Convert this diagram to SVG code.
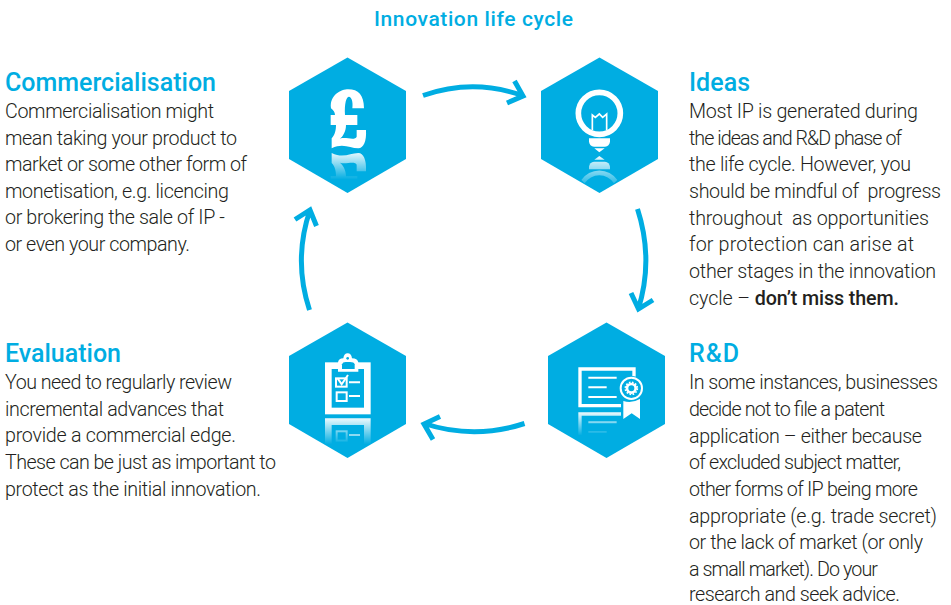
<svg xmlns="http://www.w3.org/2000/svg" xmlns:xlink="http://www.w3.org/1999/xlink" width="951" height="605" viewBox="0 0 951 605">
<style>
text{font-family:"Roboto","Liberation Sans",sans-serif}
.h{font-size:25px;font-weight:500;fill:#00ade2}
.b{font-size:19.700px;font-weight:300;fill:#231f20}
.t{font-size:21px;font-weight:500;fill:#00ade2}
.hex{fill:#00ade2}
.arrow{fill:none;stroke:#00ade2;stroke-width:5}
</style>
<defs>
<linearGradient id="f1" gradientUnits="userSpaceOnUse" x1="0" y1="295" x2="0" y2="215"><stop offset="0" stop-color="#fff" stop-opacity=".9"/><stop offset="1" stop-color="#fff" stop-opacity="0"/></linearGradient>
<linearGradient id="f2" gradientUnits="userSpaceOnUse" x1="0" y1="315" x2="0" y2="420"><stop offset="0" stop-color="#fff" stop-opacity=".95"/><stop offset="1" stop-color="#fff" stop-opacity="0"/></linearGradient>
<linearGradient id="f3" gradientUnits="userSpaceOnUse" x1="0" y1="308" x2="0" y2="388"><stop offset="0" stop-color="#fff" stop-opacity=".95"/><stop offset="1" stop-color="#fff" stop-opacity="0"/></linearGradient>
<linearGradient id="f4" gradientUnits="userSpaceOnUse" x1="0" y1="290" x2="0" y2="362"><stop offset="0" stop-color="#fff" stop-opacity=".95"/><stop offset="1" stop-color="#fff" stop-opacity="0"/></linearGradient>
<path id="pound" d="M153 175C148 135 183 118 205 118C235 118 252 135 252 175L217 175C220 155 214 140 207 140C199 140 193 160 195 195L232 195L232 225L198 225C198 245 188 260 180 266C197 260 225 273 230 260L230 240L258 240C260 275 250 295 235 295C210 295 190 278 155 295L155 265C165 255 168 240 168 225L152 225L152 195L165 195C165 188 160 180 153 175Z"/>
</defs>

<text class="t" x="374" y="26" textLength="199">Innovation life cycle</text>

<g id="connectors">
<path class="arrow" d="M423 95.500Q473 78 522 95.500M514.500 81L523 96L507 103"/>
<path class="arrow" d="M637.500 209Q654 260 638 310M631 293L638.500 309L653 300"/>
<path class="arrow" d="M524.500 423.500Q474 440 424 423.500M440 416.500L424 424L433 439.500"/>
<path class="arrow" d="M309.500 310Q293 260 310 210M295 219.500L310 210L316.500 226"/>
</g>

<g id="node-commercialisation">
<polygon class="hex" points="347.500,57.500 406,91 406,159 347.500,193 289,159 289,91"/>
<g transform="translate(280 50) scale(.33333)">
<use xlink:href="#pound" href="#pound" fill="#fff"/>
<use xlink:href="#pound" href="#pound" fill="url(#f1)" transform="matrix(1 0 0 -1 0 604)"/>
</g>
<text class="h" x="5" y="91" textLength="211">Commercialisation</text>
<text class="b" x="5" y="118" textLength="209">Commercialisation might</text>
<text class="b" x="5" y="145" textLength="232">mean taking your product to</text>
<text class="b" x="5" y="171" textLength="242">market or some other form of</text>
<text class="b" x="5" y="198" textLength="224">monetisation, e.g. licencing</text>
<text class="b" x="5" y="224" textLength="220">or brokering the sale of IP -</text>
<text class="b" x="5" y="251" textLength="185">or even your company.</text>
</g>

<g id="node-ideas">
<polygon class="hex" points="599.500,57.500 658,91 658,159 599.500,193 541,159 541,91"/>
<g transform="translate(410 50) scale(.33333)">
<circle cx="568" cy="190" r="63" fill="none" stroke="#fff" stroke-width="17"/>
<path d="M547 241V195L556 202L568 192L578 202L590 192V241" fill="none" stroke="#fff" stroke-width="5"/>
<path d="M537 265H600V275Q598 288 585 290H552Q539 288 537 275Z" fill="#fff"/>
<path d="M553 295H584L568 307Z" fill="#fff"/>
<path d="M568 318L584 329H553Z" fill="url(#f2)"/>
<path d="M537 358V350Q539 337 552 335H585Q598 337 600 350V358Z" fill="url(#f2)"/>
<path d="M514 390A65 65 0 0 1 622 390L612 400A52 52 0 0 0 524 400Z" fill="url(#f2)"/>
</g>
<text class="h" x="689" y="91" textLength="61">Ideas</text>
<text class="b" x="689" y="118" textLength="229">Most IP is generated during</text>
<text class="b" x="689" y="145" textLength="213">the ideas and R&amp;D phase of</text>
<text class="b" x="689" y="171" textLength="222">the life cycle. However, you</text>
<text class="b" x="689" y="198" textLength="252" xml:space="preserve">should be mindful of  progress</text>
<text class="b" x="689" y="225" textLength="240" xml:space="preserve">throughout  as opportunities</text>
<text class="b" x="689" y="251" textLength="225">for protection can arise at</text>
<text class="b" x="689" y="278" textLength="247">other stages in the innovation</text>
<text class="b" x="689" y="305" textLength="210">cycle – <tspan font-weight="500">don’t miss them.</tspan></text>
</g>

<g id="node-rd">
<polygon class="hex" points="606.500,322.500 665,356 665,424 606.500,458 548,424 548,356"/>
<g transform="translate(410 315) scale(.33333)">
<path d="M672 185V162H510V272H633" fill="none" stroke="#fff" stroke-width="10"/>
<path d="M535 188H620M535 217H590M535 246H620" stroke="#fff" stroke-width="6" fill="none"/>
<circle cx="664" cy="220" r="37" fill="#00ade2"/>
<circle cx="664" cy="220" r="32" fill="none" stroke="#fff" stroke-width="6"/>
<circle cx="664" cy="220" r="13" fill="none" stroke="#fff" stroke-width="8"/>
<circle cx="664" cy="220" r="18" fill="none" stroke="#fff" stroke-width="5" stroke-dasharray="5 4.400"/>
<path d="M640 258Q665 266 690 252V312L665 295L640 312Z" fill="#fff"/>
<path d="M510 360V297H633" fill="none" stroke="url(#f4)" stroke-width="10"/>
<path d="M535 322H620M535 351H590" stroke="url(#f4)" stroke-width="6" fill="none"/>
</g>
<text class="h" x="689" y="362" textLength="50">R&amp;D</text>
<text class="b" x="689" y="389" textLength="249">In some instances, businesses</text>
<text class="b" x="689" y="416" textLength="196">decide not to file a patent</text>
<text class="b" x="689" y="443" textLength="233">application – either because</text>
<text class="b" x="689" y="469" textLength="212">of excluded subject matter,</text>
<text class="b" x="689" y="496" textLength="229">other forms of IP being more</text>
<text class="b" x="689" y="523" textLength="248">appropriate (e.g. trade secret)</text>
<text class="b" x="689" y="549" textLength="234">or the lack of market (or only</text>
<text class="b" x="689" y="576" textLength="189">a small market). Do your</text>
<text class="b" x="689" y="601" textLength="211">research and seek advice.</text>
</g>

<g id="node-evaluation">
<polygon class="hex" points="347.500,322.500 406,356 406,424 347.500,458 289,424 289,356"/>
<g transform="translate(280 315) scale(.33333)">
<rect x="145" y="152" width="117" height="136" fill="none" stroke="#fff" stroke-width="20"/>
<path d="M174 170V142Q176 130 190 130Q192 115 203 115Q214 115 216 130Q232 130 235 142V170Z" fill="#fff"/>
<path d="M186 162V148Q188 141 197 141H210Q222 141 224 148V162Z" fill="#00ade2"/>
<circle cx="203" cy="130" r="4" fill="#00ade2"/>
<rect x="168" y="190" width="32" height="25" fill="none" stroke="#fff" stroke-width="6"/>
<path d="M173 190L185 208L204 180" fill="none" stroke="#fff" stroke-width="6"/>
<rect x="170" y="232" width="30" height="26" fill="none" stroke="#fff" stroke-width="6"/>
<path d="M207 202H240M207 243H240" stroke="#fff" stroke-width="6" fill="none"/>
<path d="M145 388V320H262V388" fill="none" stroke="url(#f3)" stroke-width="20"/>
<rect x="170" y="349" width="30" height="28" fill="none" stroke="url(#f3)" stroke-width="6"/>
<path d="M207 360H240" stroke="#fff" stroke-opacity=".55" stroke-width="6" fill="none"/>
</g>
<text class="h" x="5" y="362" textLength="116">Evaluation</text>
<text class="b" x="5" y="389" textLength="227">You need to regularly review</text>
<text class="b" x="5" y="416" textLength="219">incremental advances that</text>
<text class="b" x="5" y="442" textLength="231">provide a commercial edge.</text>
<text class="b" x="5" y="469" textLength="271">These can be just as important to</text>
<text class="b" x="5" y="496" textLength="256">protect as the initial innovation.</text>
</g>
</svg>
